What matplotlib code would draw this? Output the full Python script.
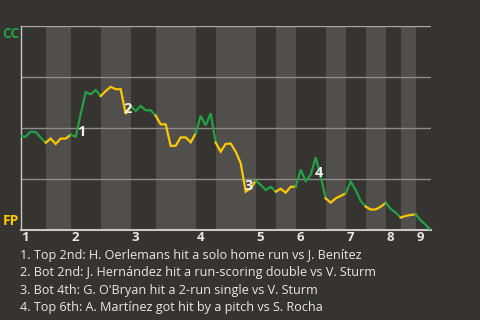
import matplotlib
matplotlib.use("Agg")
import matplotlib.pyplot as plt
import matplotlib.transforms as mtransforms
import numpy as np

# Win probability for CC after each plate appearance (0 = FP wins, 1 = CC wins)
cc_win_prob = [
    0.461, 0.457, 0.482, 0.480, 0.453, 0.428, 0.448, 0.422, 0.448, 0.448,
    0.467, 0.457, 0.569, 0.676, 0.665, 0.686, 0.657, 0.681, 0.702, 0.690,
    0.690, 0.569, 0.608, 0.583, 0.608, 0.587, 0.587, 0.560, 0.518, 0.518,
    0.412, 0.413, 0.454, 0.454, 0.430, 0.474, 0.560, 0.513, 0.572, 0.428,
    0.384, 0.422, 0.424, 0.384, 0.327, 0.188, 0.204, 0.242, 0.221, 0.196,
    0.212, 0.188, 0.202, 0.183, 0.212, 0.212, 0.296, 0.240, 0.271, 0.356,
    0.261, 0.155, 0.134, 0.155, 0.167, 0.180, 0.237, 0.196, 0.142, 0.115,
    0.100, 0.101, 0.114, 0.134, 0.103, 0.085, 0.061, 0.069, 0.074, 0.076,
    0.047, 0.025, 0.000,
]
# Number of plate appearances in each half-inning (top 1st, bottom 1st, ...)
half_inning_pas = [5, 5, 6, 6, 5, 8, 4, 8, 4, 4, 6, 4, 4, 4, 3, 3, 3]
inning_labels = ["1", "2", "3", "4", "5", "6", "7", "8", "9"]
# Key events: (label, plate appearance index)
event_labels = ["1", "2", "3", "4"]
event_index = [11, 21, 45, 60]
event_offsets = [(6, 4.7), (1.7, 4.7), (3.3, 5.7), (-2, 3.4)]
event_texts = [
    "1. Top 2nd: H. Oerlemans hit a solo home run vs J. Benítez",
    "2. Bot 2nd: J. Hernández hit a run-scoring double vs V. Sturm",
    "3. Bot 4th: G. O'Bryan hit a 2-run single vs V. Sturm",
    "4. Top 6th: A. Martínez got hit by a pitch vs S. Rocha",
]
team_top = "CC"
team_bottom = "FP"

BG = "#363430"
LIGHT_BAND = "#504f4c"
GREEN = "#23a145"
YELLOW = "#fcc803"
FONT = ["Open Sans", "DejaVu Sans"]

fig = plt.figure(figsize=(4.8, 3.2), dpi=100, facecolor=BG)
ax = fig.add_axes([20.7 / 480, 90 / 320, 410 / 480, 204 / 320])
ax.set_facecolor(BG)

n = len(cc_win_prob) - 1
ax.set_xlim(0, n)
ax.set_ylim(0, 1)

bounds = np.concatenate([[0], np.cumsum(half_inning_pas)])
for i in range(len(half_inning_pas)):
    if i % 2 == 1:
        ax.axvspan(bounds[i], bounds[i + 1], color=LIGHT_BAND, lw=0, zorder=0)

for yv in [0.25, 0.5, 0.75]:
    ax.axhline(yv, color="#8c8c8a", lw=1.0, zorder=1)
ax.axhline(1.0, color="#a8a8a6", lw=1.0, zorder=1)

x = np.arange(len(cc_win_prob))
for i in range(len(half_inning_pas)):
    s, e = bounds[i], bounds[i + 1]
    col = GREEN if i % 2 == 0 else YELLOW
    ax.plot(x[s:e + 1], cc_win_prob[s:e + 1], color=col, lw=1.6,
            solid_joinstyle="miter", zorder=3)

for lab, idx, off in zip(event_labels, event_index, event_offsets):
    ax.annotate(lab, xy=(idx, cc_win_prob[idx]), xytext=off,
                textcoords="offset pixels", ha="center", va="center",
                color="#eeeeee", fontsize=10.5, fontweight="bold",
                family=FONT, zorder=4)

for sp in ["top", "right"]:
    ax.spines[sp].set_visible(False)
ax.spines["left"].set_color("#c8c8c8")
ax.spines["bottom"].set_color("#c8c8c8")
ax.spines["left"].set_linewidth(1.0)
ax.spines["bottom"].set_linewidth(1.5)
ax.set_xticks([])
ax.set_yticks([])

trans = mtransforms.blended_transform_factory(ax.transData, fig.transFigure)
for j, lab in enumerate(inning_labels):
    ax.text(bounds[2 * j] + 0.2, 1 - 237.5 / 320, lab, transform=trans,
            ha="left", va="center", color="#e8e8e8", fontsize=9.5,
            fontweight="bold", family=FONT)

fig.text(2.5 / 480, 1 - 33.5 / 320, team_top, color=GREEN, fontsize=10,
         fontweight="bold", ha="left", va="center", family=FONT)
fig.text(2.5 / 480, 1 - 221 / 320, team_bottom, color=YELLOW, fontsize=10,
         fontweight="bold", ha="left", va="center", family=FONT)

for k, t in enumerate(event_texts):
    fig.text(20.5 / 480, 1 - (255 + 17.6 * k) / 320, t, color="#e8e8e8",
             fontsize=9.1, ha="left", va="center", family=FONT)

fig.savefig("out.png", dpi=100, facecolor=BG)
